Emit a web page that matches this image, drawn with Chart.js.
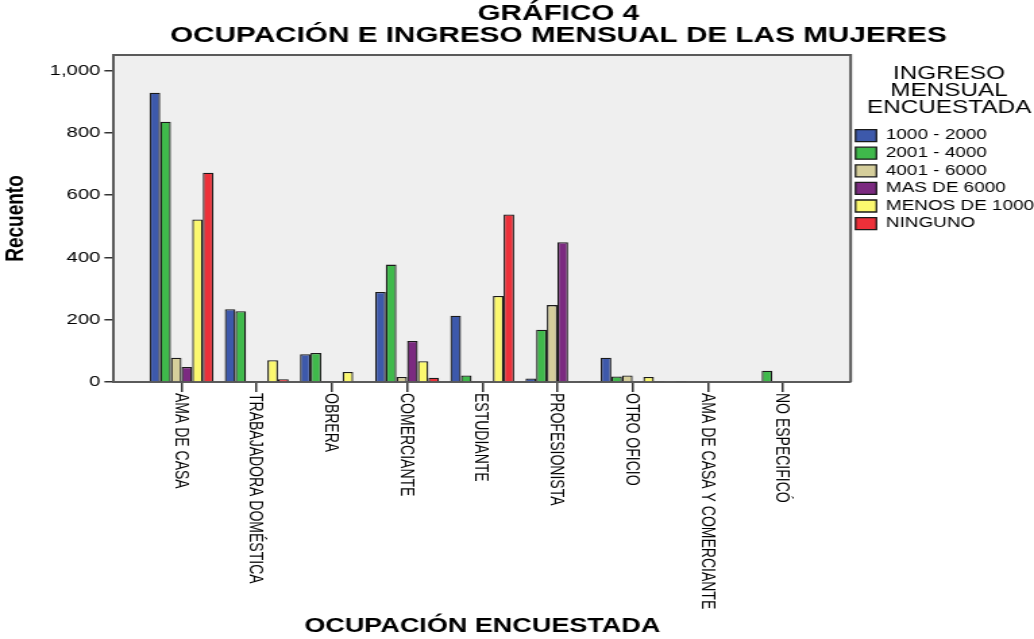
<!DOCTYPE html>
<html lang="es">
<head>
    <meta charset="UTF-8">
    <title>Gráfico 4</title>
    <style>
        body {
            margin: 0;
            background: #fff;
        }
    </style>
</head>
<body>
    <!-- drawn narrower and stretched sideways, like the original export -->
    <canvas id="chart" width="766" height="639" style="display:block;width:1034px;height:639px"></canvas>

    <script src="https://cdn.jsdelivr.net/npm/chart.js@4.4.3/dist/chart.umd.min.js"></script>
    <script>
        const categories = [
            'AMA DE CASA', 'TRABAJADORA DOMÉSTICA', 'OBRERA', 'COMERCIANTE', 'ESTUDIANTE',
            'PROFESIONISTA', 'OTRO OFICIO', 'AMA DE CASA Y COMERCIANTE', 'NO ESPECIFICÓ'
        ];
        const seriesNames = ['1000 - 2000', '2001 - 4000', '4001 - 6000', 'MAS DE 6000', 'MENOS DE 1000', 'NINGUNO'];
        const ingreso1000a2000 = [929, 234, 89, 289, 213, 11, 78, 3, 3];
        const ingreso2001a4000 = [836, 227, 93, 377, 21, 168, 18, 0, 36];
        const ingreso4001a6000 = [78, 3, 3, 16, 3, 247, 21, 0, 0];
        const ingresoMas6000 = [48, 3, 3, 132, 0, 449, 0, 0, 0];
        const ingresoMenos1000 = [522, 70, 32, 67, 276, 0, 16, 0, 0];
        const ingresoNinguno = [672, 9, 0, 14, 538, 3, 3, 0, 0];
        const yTicks = [0, 200, 400, 600, 800, 1000];

        const seriesValues = [ingreso1000a2000, ingreso2001a4000, ingreso4001a6000, ingresoMas6000, ingresoMenos1000, ingresoNinguno];
        const seriesColors = ['#3d59ab', '#3fb94b', '#d5ce9b', '#7b2a80', '#fbf86f', '#ed3039'];

        const FONT = "'Liberation Sans', Arial, sans-serif";
        Chart.defaults.font.family = FONT;
        Chart.defaults.color = '#000';

        // grey plot background plus top/right frame lines
        const plotFrame = {
            id: 'plotFrame',
            beforeDraw(chart) {
                const {ctx, chartArea: a} = chart;
                ctx.save();
                ctx.fillStyle = '#efefef';
                ctx.fillRect(a.left, a.top, a.width, a.height);
                ctx.restore();
            },
            afterDatasetsDraw(chart) {
                const {ctx, chartArea: a} = chart;
                ctx.save();
                ctx.strokeStyle = '#5a5a5a';
                ctx.lineWidth = 2;
                ctx.beginPath();
                ctx.moveTo(a.left, a.top);
                ctx.lineTo(a.right, a.top);
                ctx.lineTo(a.right, a.bottom);
                ctx.stroke();
                ctx.restore();
            }
        };

        // category names read top to bottom under each tick
        const occLabels = {
            id: 'occLabels',
            afterDraw(chart) {
                const {ctx, chartArea} = chart;
                const x = chart.scales.x;
                ctx.save();
                ctx.font = '14px ' + FONT;
                ctx.fillStyle = '#000';
                ctx.textAlign = 'left';
                ctx.textBaseline = 'middle';
                categories.forEach((label, i) => {
                    ctx.save();
                    ctx.translate(x.getPixelForValue(i) - 1, chartArea.bottom + 11);
                    ctx.rotate(Math.PI / 2);
                    ctx.fillText(label, 0, 0);
                    ctx.restore();
                });
                ctx.restore();
            }
        };

        // two line heading, sits a bit right of centre in the original
        const heading = {
            id: 'heading',
            afterDraw(chart) {
                const ctx = chart.ctx;
                const cx = chart.width * 0.54;
                ctx.save();
                ctx.font = 'bold 22px ' + FONT;
                ctx.fillStyle = '#000';
                ctx.textAlign = 'center';
                ctx.textBaseline = 'middle';
                ctx.fillText('GRÁFICO 4', cx, 14);
                ctx.fillText('OCUPACIÓN E INGRESO MENSUAL DE LAS MUJERES', cx, 36);
                ctx.restore();
            }
        };

        const datasets = seriesNames.map((name, s) => ({
            label: name,
            data: seriesValues[s].map((v, i) => ({x: i, y: v})),
            backgroundColor: seriesColors[s],
            borderColor: '#1a1a1a',
            borderWidth: 1.3,
            categoryPercentage: 0.85,
            barPercentage: 1.0
        }));

        new Chart(document.getElementById('chart'), {
            type: 'bar',
            data: { datasets: datasets },
            plugins: [plotFrame, occLabels, heading],
            options: {
                responsive: false,
                devicePixelRatio: 1,
                animation: false,
                layout: { padding: { top: 55, right: -10, bottom: 0, left: 0 } },
                plugins: {
                    tooltip: { enabled: false },
                    legend: {
                        position: 'right',
                        align: 'start',
                        title: {
                            display: true,
                            text: ['INGRESO', 'MENSUAL', 'ENCUESTADA'],
                            font: { size: 18, lineHeight: '17px' },
                            color: '#000',
                            padding: { top: 10, bottom: 43 }
                        },
                        labels: {
                            boxWidth: 15.5,
                            boxHeight: 12,
                            padding: 3.6,
                            color: '#000',
                            font: { size: 14 }
                        }
                    }
                },
                scales: {
                    x: {
                        type: 'linear',
                        min: -0.9,
                        max: 8.9,
                        offset: false,
                        afterBuildTicks: scale => {
                            scale.ticks = categories.map((c, i) => ({ value: i }));
                        },
                        ticks: { display: false },
                        grid: {
                            offset: false,
                            drawOnChartArea: false,
                            drawTicks: true,
                            tickLength: 10,
                            color: '#333',
                            lineWidth: 1.5
                        },
                        border: { display: true, color: '#5a5a5a', width: 2 },
                        title: {
                            display: true,
                            text: 'OCUPACIÓN ENCUESTADA',
                            font: { size: 20, weight: 'bold' },
                            color: '#000',
                            padding: { top: 222, bottom: 1 }
                        }
                    },
                    y: {
                        min: 0,
                        max: 1050,
                        afterBuildTicks: scale => {
                            scale.ticks = yTicks.map(v => ({ value: v }));
                        },
                        ticks: {
                            font: { size: 15 },
                            color: '#000',
                            padding: 3,
                            callback: v => v.toLocaleString('en-US')
                        },
                        grid: {
                            drawOnChartArea: false,
                            drawTicks: true,
                            tickLength: 7,
                            color: '#333',
                            lineWidth: 1.5
                        },
                        border: { display: true, color: '#5a5a5a', width: 2 },
                        title: {
                            display: true,
                            text: 'Recuento',
                            font: { size: 19, weight: 'bold' },
                            color: '#000',
                            padding: { top: 0, bottom: 11 }
                        }
                    }
                }
            }
        });
    </script>
</body>
</html>
